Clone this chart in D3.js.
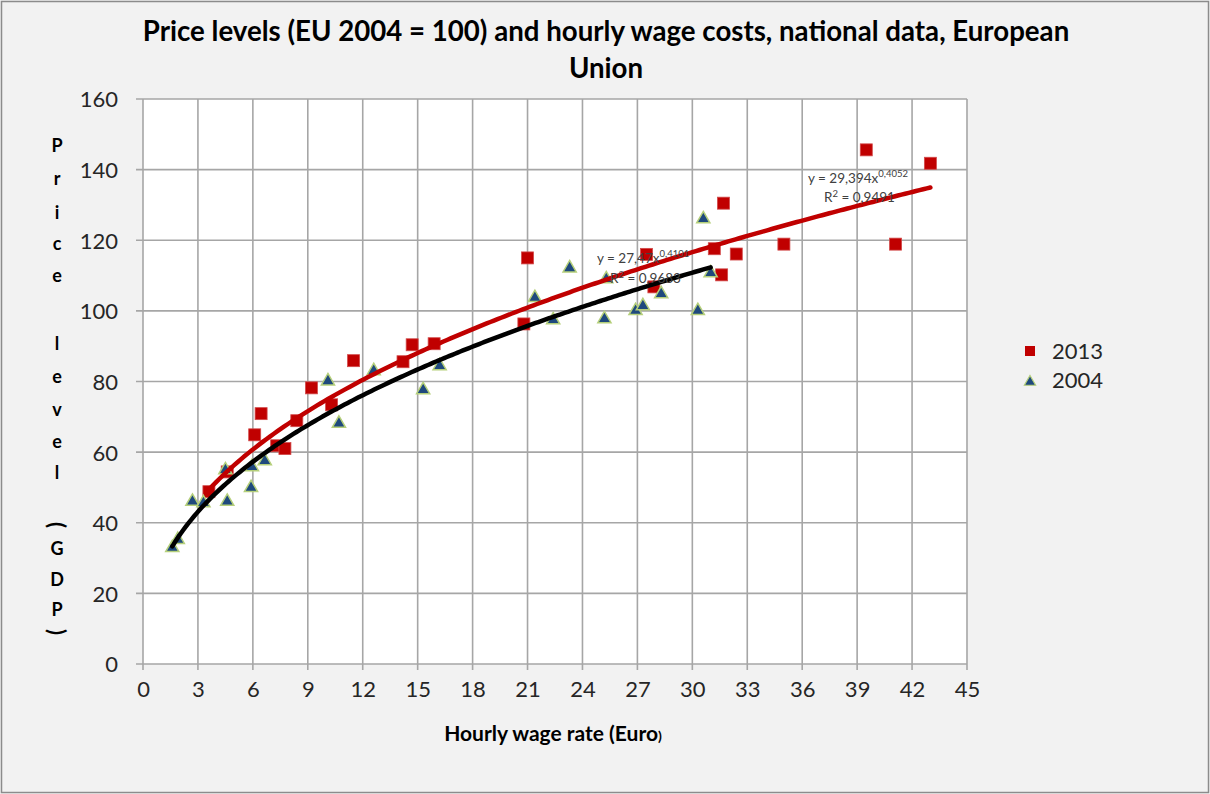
<!DOCTYPE html>
<html><head><meta charset="utf-8">
<script src="https://cdn.jsdelivr.net/npm/d3@7/dist/d3.min.js"></script>
<style>body{margin:0;background:#f2f2f2}svg{display:block}</style>
</head><body><svg id="c" width="1210" height="794"></svg>
<script>
// ---- data ----
const xTicks = [0,3,6,9,12,15,18,21,24,27,30,33,36,39,42,45];
const yTicks = [0,20,40,60,80,100,120,140,160];
const wage2013  = [3.6,4.6,6.1,6.45,7.3,7.75,8.4,9.2,10.3,11.5,14.2,14.7,15.9,20.8,21.0,27.5,27.9,31.2,31.6,31.7,32.4,35.0,39.5,41.1,43.0];
const price2013 = [48.8,54.4,64.9,70.9,61.8,61.0,68.9,78.2,73.4,85.9,85.6,90.4,90.7,96.3,115,116,106.8,117.6,110.2,130.5,116.1,118.9,145.6,118.9,141.8];
const wage2004  = [1.6,1.9,2.7,3.3,4.5,4.6,5.9,5.95,6.65,10.1,10.7,12.6,15.3,16.2,21.4,22.4,23.3,25.2,25.3,26.9,27.3,28.3,30.3,30.6,31.0];
const price2004 = [33.2,35.5,46.3,45.9,55.2,46.3,50.2,56.1,57.8,80.4,68.4,83.3,77.9,84.7,104,97.7,112.4,98,109.3,100.3,101.7,105.1,100.3,126.3,111];
const seriesNames = ["2013","2004"];
// power trendlines y = a*x^b (from the chart labels)
const trend2013 = {a:29.394, b:0.4052, r2:"0,9491", aTxt:"29,394", bTxt:"0,4052"};
const trend2004 = {a:27.47,  b:0.4101, r2:"0,9683", aTxt:"27,47",  bTxt:"0,4101"};
const titleLines = ["Price levels (EU 2004 = 100) and hourly wage costs, national data, European","Union"];
const xTitle = "Hourly wage rate (Euro";
const yTitleChars = ["P","r","i","c","e","l","e","v","e","l","(","G","D","P",")"];

// ---- layout ----
const svg = d3.select("#c");
const FONT = "Lato, 'Open Sans', sans-serif";
const L = 143, R = 967, T = 99, B = 664;
const x = d3.scaleLinear().domain([0,45]).range([L,R]);
const y = d3.scaleLinear().domain([0,160]).range([B,T]);

svg.append("rect").attr("x",1.5).attr("y",1.5).attr("width",1207).attr("height",791)
   .attr("fill","#f2f2f2").attr("stroke","#8c8c8c").attr("stroke-width",1.5);
svg.append("rect").attr("x",L).attr("y",T).attr("width",R-L).attr("height",B-T).attr("fill","#fff");

// gridlines
const grid = svg.append("g").attr("stroke","#a6a6a6").attr("stroke-width",1.6);
grid.selectAll(".gx").data(xTicks).join("line")
  .attr("x1",d=>x(d)).attr("x2",d=>x(d)).attr("y1",T).attr("y2",B+6);
grid.selectAll(".gy").data(yTicks).join("line")
  .attr("x1",L-7).attr("x2",R).attr("y1",d=>y(d)).attr("y2",d=>y(d));

// axes labels
const yAx = d3.axisLeft(y).tickValues(yTicks).tickSize(0).tickPadding(25);
svg.append("g").attr("transform",`translate(${L},0)`).call(yAx)
  .call(g=>g.select(".domain").remove())
  .selectAll("text").attr("font-family",FONT).attr("font-size",22).attr("fill","#262626").attr("dy","0.36em");
const xAx = d3.axisBottom(x).tickValues(xTicks).tickSize(0).tickPadding(22);
svg.append("g").attr("transform",`translate(0,${B})`).call(xAx)
  .call(g=>g.select(".domain").remove())
  .selectAll("text").attr("font-family",FONT).attr("font-size",22).attr("fill","#262626").attr("dy","0.5em");

// markers
const d13 = wage2013.map((w,i)=>({w,p:price2013[i]}));
const d04 = wage2004.map((w,i)=>({w,p:price2004[i]}));
const sq = 12;
svg.append("g").selectAll("rect").data(d13).join("rect")
  .attr("x",d=>x(d.w)-sq/2).attr("y",d=>y(d.p)-sq/2).attr("width",sq).attr("height",sq)
  .attr("fill","#c00000").attr("stroke","#d24a4a").attr("stroke-width",0.8);
const tri = d3.symbol().type(d3.symbolTriangle).size(75);
svg.append("g").selectAll("path").data(d04).join("path")
  .attr("d",tri).attr("transform",d=>`translate(${x(d.w)},${y(d.p)+1})`)
  .attr("fill","#1f497d").attr("stroke","#b5cf7a").attr("stroke-width",1.5);

// trendlines
function trendPts(t, xs){
  const lo = d3.min(xs), hi = d3.max(xs);
  return d3.range(0,201).map(i=>{const v = lo+(hi-lo)*i/200; return [v, t.a*Math.pow(v,t.b)];});
}
const line = d3.line().x(d=>x(d[0])).y(d=>y(d[1])).curve(d3.curveLinear);
svg.append("path").attr("d",line(trendPts(trend2013,wage2013))).attr("fill","none")
  .attr("stroke","#c00000").attr("stroke-width",4.5).attr("stroke-linecap","round");
svg.append("path").attr("d",line(trendPts(trend2004,wage2004))).attr("fill","none")
  .attr("stroke","#000").attr("stroke-width",4.5).attr("stroke-linecap","round");

// equation labels
function eq(t, xy, rxy){
  const g = svg.append("g").attr("font-family",FONT).attr("fill","#404040");
  const t1 = g.append("text").attr("x",xy[0]).attr("y",xy[1]).attr("font-size",13.5);
  t1.append("tspan").text(`y = ${t.aTxt}x`);
  t1.append("tspan").attr("dy",-6).attr("font-size",9.5).text(t.bTxt);
  const t2 = g.append("text").attr("x",rxy[0]).attr("y",rxy[1]).attr("font-size",13.5);
  t2.append("tspan").text("R");
  t2.append("tspan").attr("dy",-5).attr("font-size",9.5).text("2");
  t2.append("tspan").attr("dy",5).text(" = " + t.r2);
}
eq(trend2004,[597,263],[610,283]);
eq(trend2013,[808,183],[824,202]);

// title
const tg = svg.append("g").attr("font-family",FONT).attr("font-weight","bold").attr("fill","#000");
const t1 = tg.append("text").attr("x",606).attr("y",41).attr("text-anchor","middle").attr("font-size",22).text(titleLines[0]);
let w1 = t1.node().getComputedTextLength();
const fs = 22*927/w1;
t1.attr("font-size",fs);
tg.append("text").attr("x",606).attr("y",78).attr("text-anchor","middle").attr("font-size",fs).text(titleLines[1]);

// x title
const xt = svg.append("text").attr("x",553).attr("y",741).attr("text-anchor","middle")
  .attr("font-family",FONT).attr("font-weight","bold").attr("font-size",21).attr("fill","#000");
xt.append("tspan").text(xTitle);
xt.append("tspan").attr("font-size",14).text(")");

// y title (stacked letters; parentheses drawn rotated)
const yPos = [146,179,213,244,276,344,377,410,442,473,525,549,580,610,632];
const yt = svg.append("g").attr("font-family",FONT).attr("font-weight","bold").attr("font-size",18).attr("fill","#000");
yTitleChars.forEach((c,i)=>{
  const paren = (c==="("||c===")");
  const g = yt.append("g").attr("transform", paren ? `translate(56,${yPos[i]}) rotate(90)` : `translate(57,${yPos[i]})`);
  g.append("text").attr("x",0).attr("y",0).attr("text-anchor","middle")
    .attr("font-size", paren ? 22 : 18)
    .attr("dy", paren ? "0.3em" : "0.35em").text(c);
});

// legend
const lg = svg.append("g").attr("font-family",FONT).attr("font-size",22).attr("fill","#262626");
lg.append("rect").attr("x",1025).attr("y",346).attr("width",10).attr("height",10).attr("fill","#c00000");
lg.append("text").attr("x",1052).attr("y",351).attr("dy","0.36em").text(seriesNames[0]);
lg.append("path").attr("d",d3.symbol().type(d3.symbolTriangle).size(55)).attr("transform","translate(1030,382)")
  .attr("fill","#1f497d").attr("stroke","#b5cf7a").attr("stroke-width",1.2);
lg.append("text").attr("x",1052).attr("y",380).attr("dy","0.36em").text(seriesNames[1]);
</script></body></html>
